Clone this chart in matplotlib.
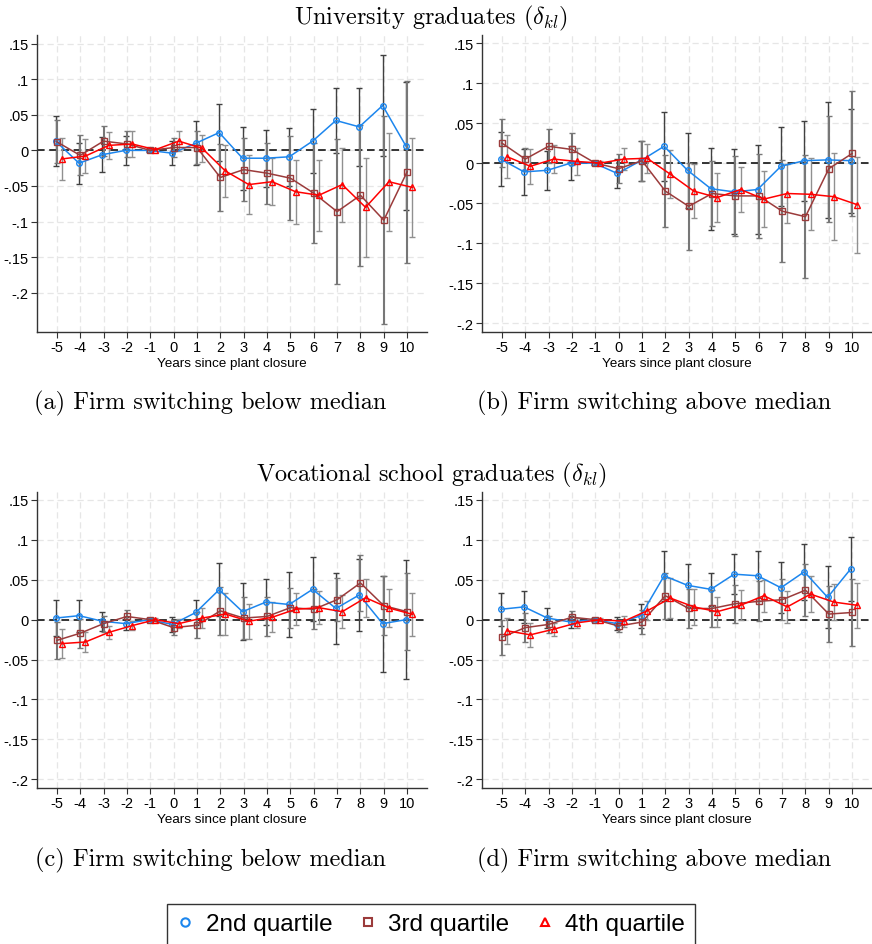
import matplotlib.pyplot as plt
from matplotlib.lines import Line2D

plt.rcParams['font.family'] = ['Liberation Sans', 'DejaVu Sans']
plt.rcParams['mathtext.fontset'] = 'cm'

years = list(range(-5, 11))
ytick_vals = [0.15, 0.1, 0.05, 0, -0.05, -0.1, -0.15, -0.2]
ytick_labels = [".15", ".1", ".05", "0", "-.05", "-.1", "-.15", "-.2"]
quartiles = ["2nd quartile", "3rd quartile", "4th quartile"]

# (a) university graduates, firm switching below median
a_q2 = [0.013, -0.018, -0.006, 0.000, 0.000, -0.004, 0.010, 0.025, -0.011, -0.011, -0.009, 0.013, 0.042, 0.033, 0.063, 0.006]
a_q2_ci = [0.035, 0.029, 0.025, 0.020, 0.002, 0.017, 0.031, 0.040, 0.044, 0.040, 0.041, 0.045, 0.046, 0.055, 0.071, 0.090]
a_q3 = [0.012, -0.007, 0.013, 0.009, 0.000, 0.004, 0.004, -0.038, -0.027, -0.032, -0.039, -0.060, -0.086, -0.063, -0.098, -0.030]
a_q3_ci = [0.030, 0.028, 0.021, 0.018, 0.002, 0.013, 0.023, 0.047, 0.044, 0.043, 0.059, 0.070, 0.102, 0.099, 0.146, 0.128]
a_q4 = [-0.012, -0.008, 0.007, 0.009, 0.001, 0.013, 0.003, -0.029, -0.048, -0.044, -0.058, -0.063, -0.048, -0.080, -0.044, -0.052]
a_q4_ci = [0.030, 0.024, 0.019, 0.018, 0.002, 0.014, 0.019, 0.036, 0.041, 0.033, 0.045, 0.050, 0.052, 0.069, 0.069, 0.069]

# (b) university graduates, firm switching above median
b_q2 = [0.005, -0.011, -0.009, 0.000, 0.000, -0.013, 0.003, 0.021, -0.009, -0.032, -0.036, -0.033, -0.004, 0.003, 0.004, 0.003]
b_q2_ci = [0.034, 0.029, 0.024, 0.021, 0.002, 0.018, 0.025, 0.043, 0.047, 0.051, 0.053, 0.056, 0.049, 0.050, 0.072, 0.065]
b_q3 = [0.025, 0.005, 0.021, 0.017, 0.000, -0.007, 0.003, -0.035, -0.054, -0.038, -0.041, -0.041, -0.060, -0.067, -0.007, 0.012]
b_q3_ci = [0.030, 0.014, 0.021, 0.020, 0.002, 0.018, 0.025, 0.045, 0.054, 0.040, 0.050, 0.052, 0.064, 0.077, 0.066, 0.078]
b_q4 = [0.008, -0.004, 0.005, 0.002, 0.000, 0.005, 0.006, -0.014, -0.035, -0.043, -0.033, -0.045, -0.038, -0.039, -0.042, -0.052]
b_q4_ci = [0.027, 0.022, 0.017, 0.017, 0.002, 0.014, 0.018, 0.030, 0.034, 0.030, 0.028, 0.035, 0.037, 0.045, 0.054, 0.060]

# (c) vocational school graduates, firm switching below median
c_q2 = [0.002, 0.005, -0.002, -0.005, 0.000, -0.006, 0.009, 0.0375, 0.010, 0.022, 0.019, 0.038, 0.014, 0.031, -0.005, 0.000]
c_q2_ci = [0.023, 0.020, 0.012, 0.008, 0.002, 0.009, 0.016, 0.033, 0.036, 0.029, 0.041, 0.040, 0.045, 0.045, 0.060, 0.075]
c_q3 = [-0.026, -0.017, -0.005, 0.004, 0.000, -0.010, -0.007, 0.011, 0.002, 0.004, 0.015, 0.013, 0.025, 0.046, 0.0175, 0.010]
c_q3_ci = [0.023, 0.018, 0.010, 0.008, 0.002, 0.009, 0.016, 0.030, 0.026, 0.024, 0.025, 0.025, 0.027, 0.035, 0.037, 0.048]
c_q4 = [-0.030, -0.028, -0.016, -0.0075, 0.000, -0.005, 0.002, 0.007, -0.002, 0.003, 0.013, 0.015, 0.010, 0.0275, 0.0146, 0.0067]
c_q4_ci = [0.018, 0.013, 0.008, 0.006, 0.002, 0.006, 0.012, 0.026, 0.022, 0.019, 0.020, 0.021, 0.021, 0.024, 0.024, 0.027]

# (d) vocational school graduates, firm switching above median
d_q2 = [0.013, 0.016, 0.002, -0.003, 0.000, -0.005, 0.005, 0.055, 0.043, 0.038, 0.057, 0.055, 0.040, 0.060, 0.028, 0.064]
d_q2_ci = [0.021, 0.020, 0.013, 0.008, 0.002, 0.008, 0.015, 0.031, 0.027, 0.021, 0.025, 0.031, 0.032, 0.035, 0.039, 0.040]
d_q3 = [-0.022, -0.010, -0.006, 0.003, 0.000, -0.008, -0.003, 0.030, 0.014, 0.014, 0.020, 0.023, 0.025, 0.037, 0.007, 0.009]
d_q3_ci = [0.022, 0.018, 0.011, 0.008, 0.002, 0.007, 0.015, 0.029, 0.025, 0.023, 0.024, 0.025, 0.026, 0.033, 0.035, 0.042]
d_q4 = [-0.014, -0.019, -0.012, -0.004, 0.000, -0.002, 0.011, 0.027, 0.016, 0.010, 0.018, 0.030, 0.016, 0.032, 0.022, 0.018]
d_q4_ci = [0.016, 0.015, 0.008, 0.006, 0.002, 0.007, 0.012, 0.025, 0.023, 0.019, 0.019, 0.020, 0.020, 0.023, 0.023, 0.028]

# style per quartile: line colour, marker, x offset, CI colour, CI width
estilos = [
    ("#1c86ee", "o", -0.05, "#404040", 1.0),
    ("#9b3b3b", "s", 0.0, "#777777", 1.5),
    ("#ff0000", "^", 0.22, "#909090", 1.0),
]


def dibujar_panel(ax, series, ylim):
    for (coef, ci), (color, marker, off, cicolor, ciw) in zip(series, estilos):
        xs = [y + off for y in years]
        ax.errorbar(xs, coef, yerr=ci, fmt="none", ecolor=cicolor, elinewidth=ciw,
                    capsize=2.5, capthick=1.0, zorder=2)
        ax.plot(xs, coef, color=color, lw=1.1, marker=marker, ms=4,
                mfc="none", mec=color, mew=1.0, zorder=3)
    ax.axhline(0, color="black", lw=1.1, ls=(0, (5, 3)), zorder=1.5)
    ax.set_xlim(-5.85, 10.85)
    ax.set_ylim(*ylim)
    ax.set_xticks(years)
    ax.set_xticklabels([str(y) for y in years], fontsize=10.5)
    ax.set_yticks(ytick_vals)
    ax.set_yticklabels(ytick_labels, fontsize=10.5)
    ax.grid(True, color="#e6e6e6", ls=(0, (5, 3)), lw=0.9, zorder=0)
    ax.set_axisbelow(True)
    for s in ["top", "right"]:
        ax.spines[s].set_visible(False)
    for s in ["left", "bottom"]:
        ax.spines[s].set_color("#333333")
        ax.spines[s].set_linewidth(1.0)
    ax.tick_params(direction="out", length=4, width=0.8, color="#333333", pad=2)
    ax.set_xlabel("Years since plant closure", fontsize=9.7, labelpad=2)


fig = plt.figure(figsize=(8.72, 9.45), dpi=100)
W, H = 872, 945


def caja(x0, y_top, x1, y_bot):
    return [x0 / W, 1 - y_bot / H, (x1 - x0) / W, (y_bot - y_top) / H]


ax_a = fig.add_axes(caja(37, 36, 427, 333))
ax_b = fig.add_axes(caja(482, 36, 872, 333))
ax_c = fig.add_axes(caja(37, 493, 427, 789))
ax_d = fig.add_axes(caja(482, 493, 872, 789))

dibujar_panel(ax_a, [(a_q2, a_q2_ci), (a_q3, a_q3_ci), (a_q4, a_q4_ci)], (-0.255, 0.162))
dibujar_panel(ax_b, [(b_q2, b_q2_ci), (b_q3, b_q3_ci), (b_q4, b_q4_ci)], (-0.211, 0.16))
dibujar_panel(ax_c, [(c_q2, c_q2_ci), (c_q3, c_q3_ci), (c_q4, c_q4_ci)], (-0.211, 0.16))
dibujar_panel(ax_d, [(d_q2, d_q2_ci), (d_q3, d_q3_ci), (d_q4, d_q4_ci)], (-0.211, 0.16))

serif = dict(family="cmr10", fontsize=17.5, ha="center", va="center")
fig.text(431 / W, 1 - 18 / H, r"University graduates ($\delta_{kl}$)", **serif)
fig.text(431 / W, 1 - 475 / H, r"Vocational school graduates ($\delta_{kl}$)", **serif)
fig.text(210 / W, 1 - 403 / H, "(a) Firm switching below median", **serif)
fig.text(654 / W, 1 - 403 / H, "(b) Firm switching above median", **serif)
fig.text(210 / W, 1 - 860 / H, "(c) Firm switching below median", **serif)
fig.text(654 / W, 1 - 860 / H, "(d) Firm switching above median", **serif)

handles = [Line2D([], [], ls="none", marker=m, ms=6, mfc="none", mec=c, mew=1.5)
           for (c, m, _, _, _) in estilos]
leg = fig.legend(handles, quartiles, loc="lower center", bbox_to_anchor=(431 / W, -0.014),
                 ncol=3, fontsize=17.5, frameon=True, fancybox=False, edgecolor="black",
                 handlelength=0.7, handletextpad=0.5, columnspacing=1.1, borderpad=0.4)
leg.get_frame().set_linewidth(1.0)

plt.savefig("out.png", dpi=100)
